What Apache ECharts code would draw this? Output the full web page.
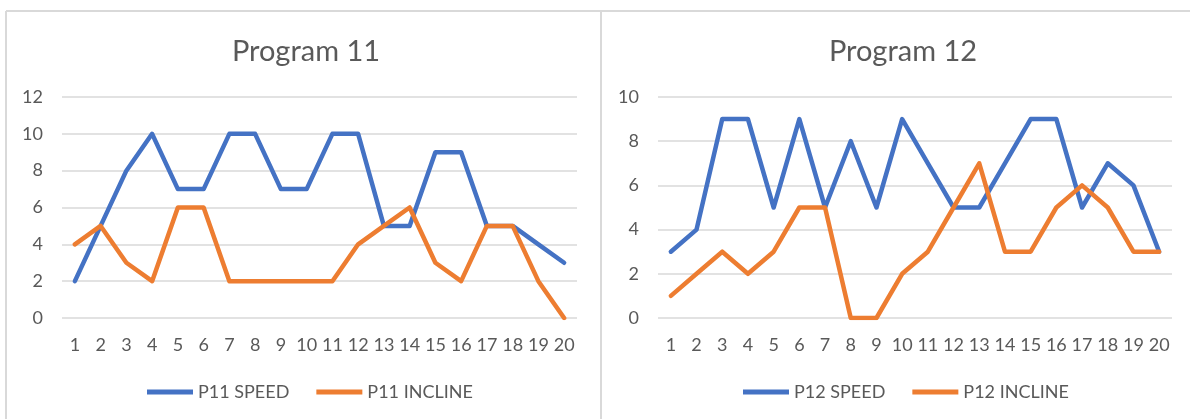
<!DOCTYPE html>
<html>
<head>
<meta charset="utf-8">
<script src="https://cdn.jsdelivr.net/npm/echarts@6/dist/echarts.min.js"></script>
<style>
html,body{margin:0;padding:0;background:#fff;}
#c{width:1190px;height:419px;}
</style>
</head>
<body>
<div id="c"></div>
<script>
const categories = ['1','2','3','4','5','6','7','8','9','10','11','12','13','14','15','16','17','18','19','20'];
const p11Speed   = [2,5,8,10,7,7,10,10,7,7,10,10,5,5,9,9,5,5,4,3];
const p11Incline = [4,5,3,2,6,6,2,2,2,2,2,4,5,6,3,2,5,5,2,0];
const p12Speed   = [3,4,9,9,5,9,5,8,5,9,7,5,5,7,9,9,5,7,6,3];
const p12Incline = [1,2,3,2,3,5,5,0,0,2,3,5,7,3,3,5,6,5,3,3];

const FONT = '"Lato", sans-serif';
const TXT = '#595959';
const BLUE = '#4472C4';
const ORANGE = '#ED7D31';
const GRIDC = '#d9d9d9';

const chart = echarts.init(document.getElementById('c'));

function xAxis(gi){
  return {
    type:'category', gridIndex:gi, data:categories, boundaryGap:true,
    axisLine:{show:false}, axisTick:{show:false},
    axisLabel:{color:TXT, fontFamily:FONT, fontSize:18, margin:18, interval:0}
  };
}
function yAxis(gi, max){
  return {
    type:'value', gridIndex:gi, min:0, max:max, interval:2,
    axisLine:{show:false}, axisTick:{show:false},
    splitLine:{lineStyle:{color:GRIDC, width:1.5}},
    axisLabel:{color:TXT, fontFamily:FONT, fontSize:18, margin:19}
  };
}
function line(name, data, gi, color){
  return {
    name:name, type:'line', xAxisIndex:gi, yAxisIndex:gi, data:data,
    showSymbol:false, symbol:'none', smooth:false,
    lineStyle:{color:color, width:4.5, cap:'round', join:'round'},
    itemStyle:{color:color}, animation:false
  };
}

chart.setOption({
  animation:false,
  backgroundColor:'#fff',
  graphic:[
    {type:'line', shape:{x1:6,y1:11,x2:1190,y2:11}, style:{stroke:GRIDC, lineWidth:2}},
    {type:'line', shape:{x1:6,y1:11,x2:6,y2:419}, style:{stroke:GRIDC, lineWidth:2}},
    {type:'line', shape:{x1:601,y1:11,x2:601,y2:419}, style:{stroke:GRIDC, lineWidth:2}}
  ],
  title:[
    {text:'Program 11', left:301, top:32, textAlign:'center',
     textStyle:{color:TXT, fontFamily:FONT, fontSize:29, fontWeight:'normal'}},
    {text:'Program 12', left:898, top:32, textAlign:'center',
     textStyle:{color:TXT, fontFamily:FONT, fontSize:29, fontWeight:'normal'}}
  ],
  legend:[
    {data:['P11 SPEED','P11 INCLINE'], left:147, top:383, padding:0, icon:'rect',
     itemWidth:46, itemHeight:5, itemGap:27,
     textStyle:{color:TXT, fontFamily:FONT, fontSize:18}},
    {data:['P12 SPEED','P12 INCLINE'], left:743, top:383, padding:0, icon:'rect',
     itemWidth:46, itemHeight:5, itemGap:27,
     textStyle:{color:TXT, fontFamily:FONT, fontSize:18}}
  ],
  grid:[
    {left:62, right:613, top:97, bottom:101},
    {left:658, right:18, top:97, bottom:101}
  ],
  xAxis:[xAxis(0), xAxis(1)],
  yAxis:[yAxis(0,12), yAxis(1,10)],
  series:[
    line('P11 SPEED', p11Speed, 0, BLUE),
    line('P11 INCLINE', p11Incline, 0, ORANGE),
    line('P12 SPEED', p12Speed, 1, BLUE),
    line('P12 INCLINE', p12Incline, 1, ORANGE)
  ]
});
</script>
</body>
</html>
